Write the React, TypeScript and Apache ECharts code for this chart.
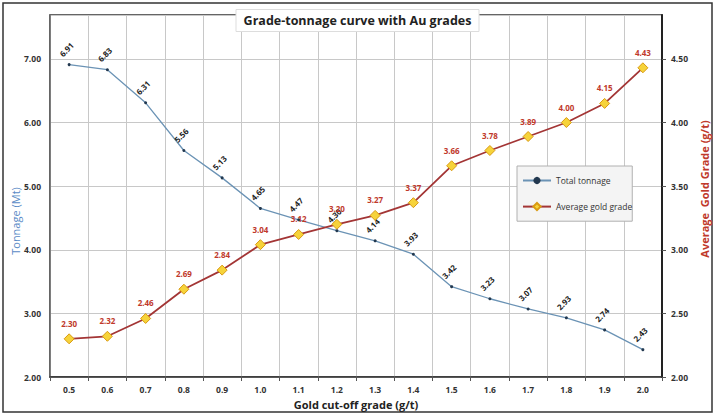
import React, { useEffect, useRef } from "react";
import * as echarts from "echarts";

const cutoffs = ["0.5", "0.6", "0.7", "0.8", "0.9", "1.0", "1.1", "1.2", "1.3", "1.4", "1.5", "1.6", "1.7", "1.8", "1.9", "2.0"];
const tonnage = [6.91, 6.83, 6.31, 5.56, 5.13, 4.65, 4.47, 4.3, 4.14, 3.93, 3.42, 3.23, 3.07, 2.93, 2.74, 2.43];
const goldGrade = [2.3, 2.32, 2.46, 2.69, 2.84, 3.04, 3.12, 3.2, 3.27, 3.37, 3.66, 3.78, 3.89, 4.0, 4.15, 4.43];

const FONT = "'Open Sans', 'Liberation Sans', sans-serif";

export default function App() {
  const ref = useRef<HTMLDivElement>(null);
  useEffect(() => {
    document.body.style.margin = "0";
    if (!ref.current) return;
    const chart = echarts.init(ref.current, null, { renderer: "svg" });
    chart.setOption({
      animation: false,
      backgroundColor: "#ffffff",
      textStyle: { fontFamily: FONT },
      title: {
        text: "Grade-tonnage curve with Au grades",
        left: "center",
        top: 9,
        backgroundColor: "#ffffff",
        borderColor: "#dddddd",
        borderWidth: 1,
        padding: [5, 8, 5, 8],
        textStyle: { fontSize: 12.5, fontWeight: "bold", color: "#222", fontFamily: FONT },
      },
      graphic: [
        {
          type: "rect",
          shape: { x: 3, y: 3, width: 709, height: 409 },
          style: { fill: "none", stroke: "#333", lineWidth: 1.5 },
          silent: true,
          z: -1,
        },
        {
          type: "text",
          x: 15,
          y: 221,
          rotation: Math.PI / 2,
          style: {
            text: "Tonnage (Mt)",
            fill: "#5a8ac6",
            fontSize: 11,
            fontFamily: FONT,
            align: "center",
            verticalAlign: "middle",
          },
          silent: true,
        },
        {
          type: "text",
          x: 704,
          y: 189,
          rotation: Math.PI / 2,
          style: {
            text: "Average  Gold Grade (g/t)",
            fill: "#c0392b",
            fontSize: 11,
            fontWeight: "bold",
            fontFamily: FONT,
            align: "center",
            verticalAlign: "middle",
          },
          silent: true,
        },
      ],
      legend: {
        orient: "vertical",
        left: 517,
        top: 166,
        backgroundColor: "#f4f4f4",
        borderColor: "#b0b0b0",
        borderWidth: 1,
        padding: [10, 0, 10, 5],
        itemGap: 17,
        itemWidth: 28,
        itemHeight: 9,
        textStyle: { fontSize: 8.5, color: "#333", fontFamily: FONT },
        data: ["Total tonnage", "Average gold grade"],
      },
      grid: {
        left: 50,
        right: 53,
        top: 15,
        bottom: 39,
        show: true,
        borderColor: "#333",
        borderWidth: 1.5,
      },
      xAxis: {
        type: "category",
        data: cutoffs,
        boundaryGap: true,
        name: "Gold cut-off grade (g/t)",
        nameLocation: "middle",
        nameGap: 20,
        nameTextStyle: { fontSize: 11, fontWeight: "bold", color: "#222", fontFamily: FONT },
        axisLine: { lineStyle: { color: "#333", width: 1.5 } },
        axisTick: { show: true, length: 4, lineStyle: { color: "#555" } },
        axisLabel: { fontSize: 8.5, fontWeight: "bold", color: "#333", margin: 8 },
        splitLine: { show: true, lineStyle: { color: "#c8c8c8", width: 1 } },
      },
      yAxis: [
        {
          type: "value",
          min: 2,
          max: 7.69,
          interval: 1,
          axisLine: { show: true, lineStyle: { color: "#666", width: 1.5 } },
          axisTick: { show: false },
          axisLabel: {
            fontSize: 8.5,
            fontWeight: "bold",
            color: "#333",
            margin: 9,
            showMaxLabel: false,
            formatter: (v: number) => v.toFixed(2),
          },
          splitLine: { show: true, lineStyle: { color: "#c8c8c8", width: 1 } },
        },
        {
          type: "value",
          min: 2,
          max: 4.845,
          interval: 0.5,
          axisLine: { show: true, lineStyle: { color: "#222", width: 2 } },
          axisTick: { show: true, length: 4, lineStyle: { color: "#555" } },
          axisLabel: {
            fontSize: 8.5,
            fontWeight: "bold",
            color: "#333",
            margin: 9,
            showMaxLabel: false,
            formatter: (v: number) => v.toFixed(2),
          },
          splitLine: { show: false },
        },
      ],
      series: [
        {
          name: "Total tonnage",
          type: "line",
          yAxisIndex: 0,
          data: tonnage,
          color: "#5f8db3",
          symbol: "circle",
          symbolSize: 3,
          lineStyle: { color: "#6b93b5", width: 1.3 },
          itemStyle: { color: "#22384f" },
          label: {
            show: true,
            position: "top",
            distance: 11,
            rotate: 45,
            fontSize: 8,
            fontWeight: "bold",
            color: "#222",
            formatter: (p: any) => Number(p.value).toFixed(2),
          },
          z: 3,
        },
        {
          name: "Average gold grade",
          type: "line",
          yAxisIndex: 1,
          data: goldGrade,
          color: "#a33535",
          symbol: "diamond",
          symbolSize: 10,
          lineStyle: { color: "#a33535", width: 1.8 },
          itemStyle: { color: "#f6d33a", borderColor: "#d99a12", borderWidth: 1 },
          label: {
            show: true,
            position: "top",
            distance: 6,
            fontSize: 8,
            fontWeight: "bold",
            color: "#c0392b",
            formatter: (p: any) => Number(p.value).toFixed(2),
          },
          z: 4,
        },
      ],
    });
    return () => chart.dispose();
  }, []);
  return <div ref={ref} style={{ width: 715, height: 416 }} />;
}
